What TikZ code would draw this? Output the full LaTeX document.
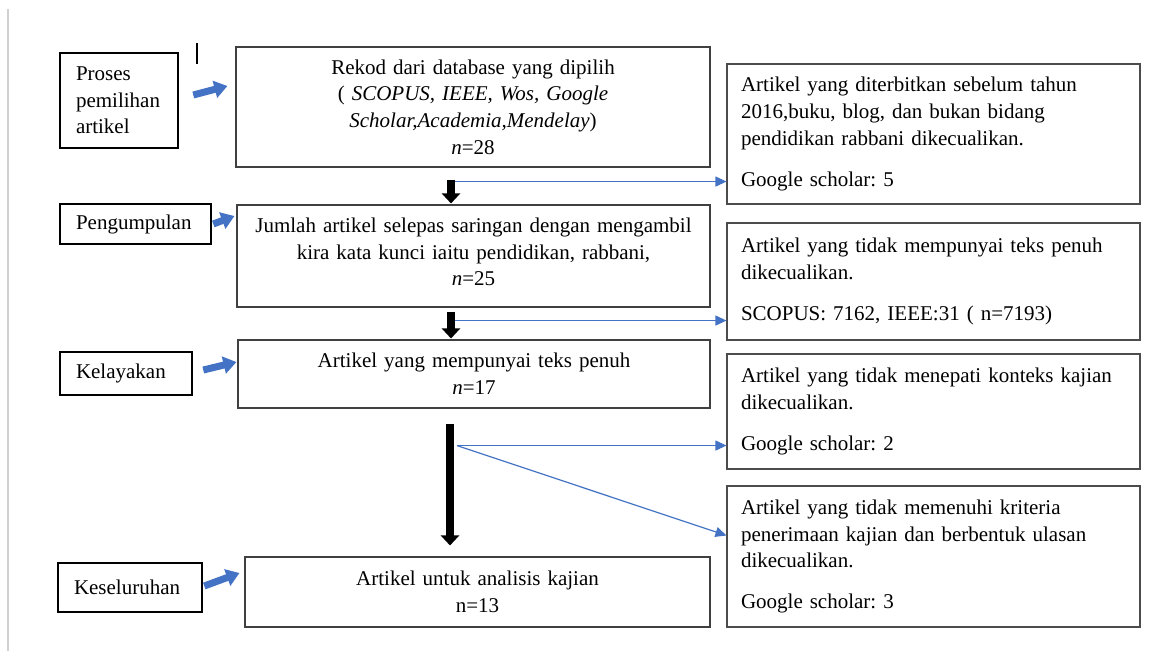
\documentclass[tikz,border=0pt]{standalone}
\usepackage{fontspec}
\setmainfont{Liberation Serif}
\usetikzlibrary{arrows.meta,calc}
\definecolor{wblue}{HTML}{4472C4}
\tikzset{
  txt/.style={font=\fontsize{21pt}{26.7pt}\selectfont\frenchspacing},
  mainbox/.style={txt, draw=black!75, line width=1.1pt, align=center, inner xsep=8pt, inner ysep=0pt},
  sidebox/.style={txt, draw=black!70, line width=1.1pt, align=left, inner xsep=14pt, inner ysep=0pt,
    minimum width=413pt, text width=385pt},
  stagebox/.style={txt, draw=black, line width=2.6pt, align=left, inner xsep=16pt, inner ysep=0pt},
  blk/.style={line width=8pt, -{Triangle[width=18pt,length=10pt]}},
  thin/.style={wblue, line width=1.2pt, -{Triangle[width=10pt,length=11pt]}},
  fat/.style={wblue, line width=7pt, -{Triangle[width=17pt,length=13pt]}}
}
\begin{document}
\begin{tikzpicture}[x=1pt,y=-1pt]
\useasboundingbox (0,0) rectangle (1150,651);
\fill[white] (0,0) rectangle (1150,651);
\draw[black!18, line width=1.3pt] (8,9) -- (8,651);
\draw[black, line width=1.3pt] (197,43) -- (197,64);

% stage boxes
\node[stagebox, minimum width=118pt, minimum height=95pt, text width=86pt] (p) at (119,100.5) {Proses\\pemilihan\\artikel};
\node[stagebox, minimum width=151pt, minimum height=40pt, text width=119pt] (pg) at (135.5,224) {Pengumpulan};
\node[stagebox, minimum width=132pt, minimum height=43pt, text width=100pt] (k) at (126,373.5) {Kelayakan};
\node[stagebox, minimum width=144pt, minimum height=49pt, text width=112pt] (ks) at (130,587.5) {Keseluruhan};

% main boxes
\node[mainbox, minimum width=474pt, minimum height=120pt, text width=458pt] (b1) at (473,107)
  {Rekod dari database yang dipilih\\( \textit{SCOPUS, IEEE, Wos, Google}\\\textit{Scholar,Academia,Mendelay})\\\textit{n}=28};
\node[mainbox, minimum width=473pt, minimum height=102pt, text width=457pt] (b2) at (473.5,256)
  {Jumlah artikel selepas saringan dengan mengambil\\kira kata kunci iaitu pendidikan, rabbani,\\\textit{n}=25\\[-18.7pt]\mbox{}};
\node[mainbox, minimum width=472pt, minimum height=68pt, text width=456pt] (b3) at (474,374)
  {Artikel yang mempunyai teks penuh\\\textit{n}=17};
\node[mainbox, minimum width=465pt, minimum height=70pt, text width=449pt] (b4) at (477.5,592)
  {Artikel untuk analisis kajian\\n=13};

% side boxes
\node[sidebox, minimum height=140pt] (r1) at (933.5,134)
  {Artikel yang diterbitkan sebelum tahun\\2016,buku, blog, dan bukan bidang\\pendidikan rabbani dikecualikan.\\[14pt]Google scholar: 5};
\node[sidebox, minimum height=117pt] (r2) at (933.5,281.5)
  {Artikel yang tidak mempunyai teks penuh\\dikecualikan.\\[14pt]SCOPUS: 7162, IEEE:31 ( n=7193)};
\node[sidebox, minimum height=115pt] (r3) at (933.5,411.5)
  {Artikel yang tidak menepati konteks kajian\\dikecualikan.\\[14pt]Google scholar: 2};
\node[sidebox, minimum height=141pt] (r4) at (933.5,556.5)
  {Artikel yang tidak memenuhi kriteria\\penerimaan kajian dan berbentuk ulasan\\dikecualikan.\\[14pt]Google scholar: 3};

% stage arrows
\draw[fat] ($(p.east)+(14,-5.5)$) -- ($(b1.west)+(-8,-21)$);
\draw[fat] ($(pg.east)+(1,0)$) -- ($(b2.west)+(-2,-40)$);
\draw[fat] ($(k.east)+(10,-3.5)$) -- ($(b3.west)+(-1,-12)$);
\draw[fat] ($(ks.east)+(1,-1.5)$) -- ($(b4.west)+(-5,-19)$);

% main flow arrows
\draw[blk] ($(b1.south)+(-22,12)$) -- ($(b2.north)+(-22.5,-1)$);
\draw[blk] ($(b2.south)+(-22.5,4)$) -- ($(b3.north)+(-23,-1)$);
\draw[blk] ($(b3.south)+(-24,15)$) -- ($(b4.north)+(-27.5,-11)$);

% exclusion arrows
\coordinate (j1) at ($(b1.south)+(-18,14)$);
\coordinate (j2) at ($(b2.south)+(-18.5,13)$);
\coordinate (j3) at ($(b3.south)+(-17,37)$);
\draw[thin] (j1) -- (j1 -| r1.west);
\draw[thin] (j2) -- (j2 -| r2.west);
\draw[thin] (j3) -- (j3 -| r3.west);
\draw[thin] (j3) -- ($(r4.west)+(0,-21)$);
\end{tikzpicture}
\end{document}
